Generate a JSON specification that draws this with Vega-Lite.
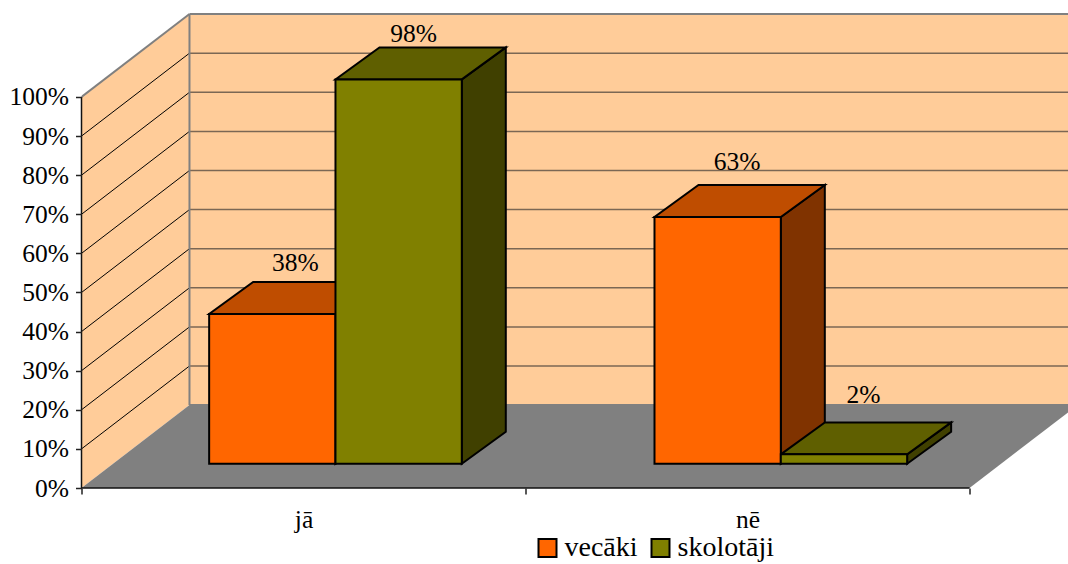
{
"$schema":"https://vega.github.io/schema/vega-lite/v6.json",
"width":986.5,"height":488,
"autosize":"none",
"padding":{"left":81.5,"top":0,"right":0,"bottom":76},
"background":"white",
"config":{"view":{"stroke":null},"font":"Liberation Serif"},
"datasets":{
"bars":[
{"category":"jā","series":"vecāki","value":38.3},
{"category":"jā","series":"skolotāji","value":98.3},
{"category":"nē","series":"vecāki","value":63.1},
{"category":"nē","series":"skolotāji","value":2.4}],
"grid":[{"pct":10},{"pct":20},{"pct":30},{"pct":40},{"pct":50},{"pct":60},{"pct":70},{"pct":80},{"pct":90}],
"surfaces":[
{"surface":"wall","x":0,"y":0,"y2":100},
{"surface":"wall","x":0.2432,"y":21.2,"y2":121.2},
{"surface":"floor","x":0,"y":0,"y2":0},
{"surface":"floor","x":0.2432,"y":0,"y2":21.2},
{"surface":"floor","x":2,"y":0,"y2":21.2},
{"surface":"floor","x":2.2432,"y":21.2,"y2":21.2}],
"edges":[
{"x":0,"y":100,"x2":0.2432,"y2":121.2},
{"x":0.2432,"y":21.2,"x2":0.2432,"y2":121.2},
{"x":0.2432,"y":121.2,"x2":2.2218,"y2":121.2},
{"x":0.2432,"y":21.2,"x2":2.2218,"y2":21.2}],
"axes":[
{"x":0,"y":0,"x2":2,"y2":0},
{"x":0,"y":0,"x2":0,"y2":100}]
},
"encoding":{
"x":{"field":"x","type":"quantitative","title":null,
"scale":{"domain":[0,2.2218],"nice":false,"zero":false},
"axis":{"values":[0,0.5,1,1.5,2],"grid":false,"domain":false,"tickSize":6,"tickWidth":1.5,"tickColor":"#222",
"tickOpacity":{"condition":{"test":"datum.value % 1 === 0","value":1},"value":0},
"labelExpr":"datum.value === 0.5 ? 'jā' : datum.value === 1.5 ? 'nē' : ''",
"labelFont":"Liberation Serif","labelFontSize":25.5,"labelColor":"#000","labelPadding":13,"labelFlush":false,"labelOverlap":false,"zindex":1}},
"y":{"field":"y","type":"quantitative","title":null,
"scale":{"domain":[0,124.8],"nice":false,"zero":false},
"axis":{"values":[0,10,20,30,40,50,60,70,80,90,100],"grid":false,"domain":false,"tickSize":6,"tickWidth":1.5,"tickColor":"#222",
"labelExpr":"datum.value + '%'",
"labelFont":"Liberation Serif","labelFontSize":25.5,"labelColor":"#000","labelPadding":7,"labelOverlap":false,"zindex":1}}
},
"layer":[
{"data":{"name":"grid"},"transform":[{"calculate":"0.2432","as":"x"},{"calculate":"2.2218","as":"x2"},{"calculate":"-100","as":"y"}],
 "mark":{"type":"rect","color":"#FFCC99","clip":true},
 "encoding":{"x2":{"field":"x2"},"y":{"datum":21.2},"y2":{"datum":121.2}}},
{"data":{"name":"surfaces"},"transform":[{"filter":"datum.surface === 'wall'"}],
 "mark":{"type":"area","color":"#FFCC99","clip":true},
 "encoding":{"y2":{"field":"y2"},"detail":{"field":"surface"}}},
{"data":{"name":"surfaces"},"transform":[{"filter":"datum.surface === 'floor'"}],
 "mark":{"type":"area","color":"#808080","clip":true},
 "encoding":{"y2":{"field":"y2"},"detail":{"field":"surface"}}},
{"data":{"name":"grid"},"transform":[{"calculate":"0.2432","as":"x"},{"calculate":"2.2218","as":"x2"},{"calculate":"datum.pct + 21.2","as":"y"},{"calculate":"datum.y","as":"y2"}],
 "mark":{"type":"rule","color":"#7B6754","strokeWidth":1.5,"clip":true},
 "encoding":{"x2":{"field":"x2"},"y2":{"field":"y2"}}},
{"data":{"name":"grid"},"transform":[{"calculate":"0","as":"x"},{"calculate":"0.2432","as":"x2"},{"calculate":"datum.pct","as":"y"},{"calculate":"datum.pct + 21.2","as":"y2"}],
 "mark":{"type":"rule","color":"#000","strokeWidth":1},
 "encoding":{"x2":{"field":"x2"},"y2":{"field":"y2"}}},
{"data":{"name":"edges"},
 "mark":{"type":"rule","color":"#808080","strokeWidth":2,"clip":true},
 "encoding":{"x2":{"field":"x2"},"y2":{"field":"y2"}}},
{"data":{"name":"axes"},
 "mark":{"type":"rule","color":"#111","strokeWidth":1.5},
 "encoding":{"x2":{"field":"x2"},"y2":{"field":"y2"}}},
{"data":{"name":"bars"},
 "transform":[
 {"calculate":"datum.category === 'jā' ? 0 : 1","as":"cat"},
 {"calculate":"datum.series === 'vecāki' ? 0 : 1","as":"ser"},
 {"calculate":"datum.cat * 1.003 + 0.2875 + datum.ser * 0.2845","as":"xL"},
 {"calculate":"datum.xL + 0.2845","as":"xR"},
 {"calculate":"6.2 + datum.value","as":"top"}],
 "layer":[
 {"transform":[{"filter":"datum.series === 'vecāki'"},{"calculate":"[0,1]","as":"t"},{"flatten":["t"]},
   {"calculate":"datum.xR + datum.t * 0.0991","as":"x"},{"calculate":"6.2 + datum.t * 8.18","as":"y"},{"calculate":"datum.top + datum.t * 8.18","as":"y2"}],
  "mark":{"type":"area","color":"#803300","stroke":"#000","strokeWidth":2,"strokeJoin":"miter"},
  "encoding":{"y2":{"field":"y2"},"detail":{"field":"category"}}},
 {"transform":[{"filter":"datum.series === 'vecāki'"},{"calculate":"[0,1,2,3]","as":"t"},{"flatten":["t"]},
   {"calculate":"datum.t === 0 ? datum.xL : datum.t === 1 ? datum.xL + 0.0991 : datum.t === 2 ? datum.xR : datum.xR + 0.0991","as":"x"},
   {"calculate":"datum.t === 3 ? datum.top + 8.18 : datum.top","as":"y"},
   {"calculate":"datum.t === 0 ? datum.top : datum.top + 8.18","as":"y2"}],
  "mark":{"type":"area","color":"#BF4D00","stroke":"#000","strokeWidth":2,"strokeJoin":"miter"},
  "encoding":{"y2":{"field":"y2"},"detail":{"field":"category"}}},
 {"transform":[{"filter":"datum.series === 'skolotāji'"},{"calculate":"[0,1]","as":"t"},{"flatten":["t"]},
   {"calculate":"datum.xR + datum.t * 0.0991","as":"x"},{"calculate":"6.2 + datum.t * 8.18","as":"y"},{"calculate":"datum.top + datum.t * 8.18","as":"y2"}],
  "mark":{"type":"area","color":"#404000","stroke":"#000","strokeWidth":2,"strokeJoin":"miter"},
  "encoding":{"y2":{"field":"y2"},"detail":{"field":"category"}}},
 {"transform":[{"filter":"datum.series === 'skolotāji'"},{"calculate":"[0,1,2,3]","as":"t"},{"flatten":["t"]},
   {"calculate":"datum.t === 0 ? datum.xL : datum.t === 1 ? datum.xL + 0.0991 : datum.t === 2 ? datum.xR : datum.xR + 0.0991","as":"x"},
   {"calculate":"datum.t === 3 ? datum.top + 8.18 : datum.top","as":"y"},
   {"calculate":"datum.t === 0 ? datum.top : datum.top + 8.18","as":"y2"}],
  "mark":{"type":"area","color":"#5F5F00","stroke":"#000","strokeWidth":2,"strokeJoin":"miter"},
  "encoding":{"y2":{"field":"y2"},"detail":{"field":"category"}}},
 {"transform":[{"calculate":"datum.xL","as":"x"},{"calculate":"6.2","as":"y"}],
  "mark":{"type":"rect","stroke":"#000","strokeWidth":2},
  "encoding":{"x2":{"field":"xR"},"y2":{"field":"top"},
   "fill":{"field":"series","type":"nominal",
    "scale":{"domain":["vecāki","skolotāji"],"range":["#FF6600","#808000"]},
    "legend":{"title":null,"orient":"none","legendX":441,"legendY":523,"direction":"horizontal","symbolType":"square","symbolSize":324,
     "symbolStrokeColor":"#000","symbolStrokeWidth":2,"labelFont":"Liberation Serif","labelFontSize":28,"labelColor":"#000","fillColor":"white","padding":11,"columnPadding":8,"labelOffset":3}}}},
 {"transform":[
   {"calculate":"datum.xL + {'jāvecāki':0.194,'jāskolotāji':0.176,'nēvecāki':0.186,'nēskolotāji':0.186}[datum.category + datum.series]","as":"x"},
   {"calculate":"datum.top + {'jāvecāki':13,'jāskolotāji':11.5,'nēvecāki':14,'nēskolotāji':15.3}[datum.category + datum.series]","as":"y"},
   {"calculate":"format(datum.value,'.0f') + '%'","as":"label"}],
  "mark":{"type":"text","font":"Liberation Serif","fontSize":25.5,"color":"#000","baseline":"middle","align":"center"},
  "encoding":{"text":{"field":"label"}}}
 ]}
]
}
